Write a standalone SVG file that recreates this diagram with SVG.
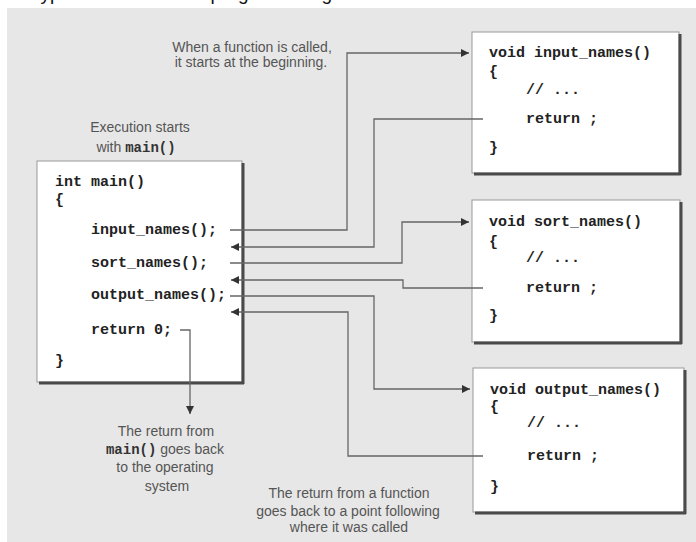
<svg xmlns="http://www.w3.org/2000/svg" width="696" height="542" viewBox="0 0 696 542">
<style>
.code{font-family:"Liberation Mono","Courier New",monospace;font-size:15px;font-weight:bold;fill:#222}
.lbl{font-family:"Liberation Sans",Arial,sans-serif;font-size:14px;fill:#555;text-anchor:middle}
.lblm{font-family:"Liberation Mono",monospace;font-weight:bold;fill:#333}
.box{fill:#fff;stroke:#999;stroke-width:1}
.shd{fill:none;stroke:#4a4a4a;stroke-width:3}
.con{fill:none;stroke:#666;stroke-width:1.3}
</style>
<defs>
<marker id="ah" viewBox="0 0 10 10" refX="10" refY="5" markerWidth="9" markerHeight="8" markerUnits="userSpaceOnUse" orient="auto">
<path d="M0,0 L10,5 L0,10 z" fill="#333"/>
</marker>
</defs>
<rect x="0" y="0" width="696" height="542" fill="#fff"/>
<rect x="7" y="8" width="689" height="534" fill="#e7e7e7"/>
<text x="30" y="0" font-family="Liberation Sans,Arial,sans-serif" font-size="19" fill="#111">Typical structure of a program using functions</text>

<g id="label-call">
<text class="lbl" x="252" y="52">When a function is called,</text>
<text class="lbl" x="251" y="67">it starts at the beginning.</text>
</g>
<g id="label-start">
<text class="lbl" x="140" y="132">Execution starts</text>
<text class="lbl" x="136" y="152">with <tspan class="lblm">main()</tspan></text>
</g>
<g id="label-main-return">
<text class="lbl" x="166" y="436">The return from</text>
<text class="lbl" x="165" y="454"><tspan class="lblm">main()</tspan> goes back</text>
<text class="lbl" x="165" y="472">to the operating</text>
<text class="lbl" x="167" y="491">system</text>
</g>
<g id="label-func-return">
<text class="lbl" x="349" y="498">The return from a function</text>
<text class="lbl" x="348" y="516">goes back to a point following</text>
<text class="lbl" x="349" y="532">where it was called</text>
</g>

<g id="main">
<rect class="box" x="37" y="161" width="205" height="221"/>
<path class="shd" d="M243,163 V384 M39,383 H244"/>
<text class="code" x="55" y="186">int main()</text>
<text class="code" x="55" y="204">{</text>
<text class="code" x="91" y="234">input_names();</text>
<text class="code" x="91" y="267">sort_names();</text>
<text class="code" x="91" y="299">output_names();</text>
<text class="code" x="91" y="334">return 0;</text>
<text class="code" x="55" y="365">}</text>
</g>

<g id="input_names">
<rect class="box" x="472" y="32" width="207" height="141"/>
<path class="shd" d="M680,34 V175 M474,174 H681"/>
<text class="code" x="489" y="57">void input_names()</text>
<text class="code" x="489" y="76">{</text>
<text class="code" x="526" y="94">// ...</text>
<text class="code" x="526" y="123">return ;</text>
<text class="code" x="489" y="152">}</text>
</g>

<g id="sort_names">
<rect class="box" x="472" y="200" width="208" height="142"/>
<path class="shd" d="M681,202 V344 M474,343 H682"/>
<text class="code" x="489" y="226">void sort_names()</text>
<text class="code" x="489" y="246">{</text>
<text class="code" x="526" y="262">// ...</text>
<text class="code" x="526" y="292">return ;</text>
<text class="code" x="489" y="320">}</text>
</g>

<g id="output_names">
<rect class="box" x="473" y="368" width="211" height="144"/>
<path class="shd" d="M685,370 V514 M475,513 H686"/>
<text class="code" x="490" y="394">void output_names()</text>
<text class="code" x="490" y="411">{</text>
<text class="code" x="527" y="427">// ...</text>
<text class="code" x="527" y="460">return ;</text>
<text class="code" x="490" y="491">}</text>
</g>

<g id="connectors">
<path class="con" d="M230,230 H347 V53 H469" marker-end="url(#ah)"/>
<path class="con" d="M483,119 H374 V247 H231" marker-end="url(#ah)"/>
<path class="con" d="M230,263 H402 V222 H469" marker-end="url(#ah)"/>
<path class="con" d="M483,288 H403 V280 H231" marker-end="url(#ah)"/>
<path class="con" d="M230,296 H374 V389 H470" marker-end="url(#ah)"/>
<path class="con" d="M483,456 H348 V312 H231" marker-end="url(#ah)"/>
<path class="con" d="M180,330 H190 V414" marker-end="url(#ah)"/>
</g>
</svg>
